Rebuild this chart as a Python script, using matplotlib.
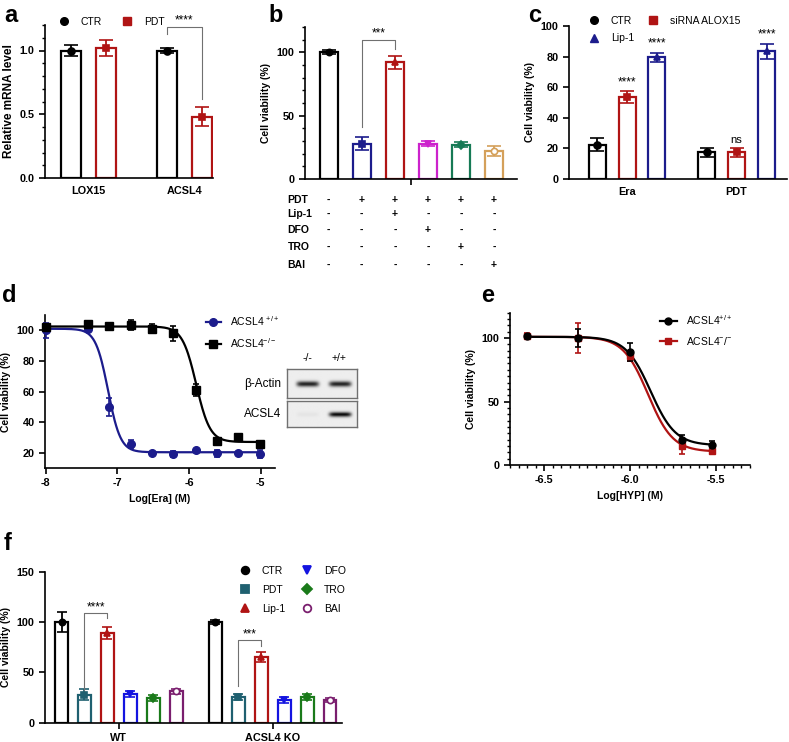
import numpy as np
import matplotlib
matplotlib.use("Agg")
import matplotlib.pyplot as plt
from matplotlib.lines import Line2D

plt.rcParams['font.family'] = ['Liberation Sans', 'DejaVu Sans']
plt.rcParams['mathtext.default'] = 'regular'
plt.rcParams['axes.unicode_minus'] = False

W, H = 789, 742

BLACK = '#000000'
RED = '#B01414'
NAVY = '#1C1C8C'
GRAY = '#707070'

# ---- panel a: relative mRNA level
a_genes = ['LOX15', 'ACSL4']
a_ctr = [1.00, 1.00]
a_ctr_err = [0.04, 0.02]
a_pdt = [1.02, 0.48]
a_pdt_err = [0.065, 0.075]

# ---- panel b: viability with inhibitors
b_mean = [100, 28, 92, 28, 27, 22]
b_err = [1.5, 5, 5, 2, 2, 4]
b_colors = ['#000000', '#1C1C8C', '#B01414', '#CC22CC', '#167A55', '#D4A05A']
b_markers = ['o', 's', '^', 'v', 'D', 'o']
b_rows = ['PDT', 'Lip-1', 'DFO', 'TRO', 'BAI']
b_signs = ['-+++++', '--+---', '---+--', '----+-', '-----+']

# ---- panel c: Era / PDT with siRNA and Lip-1
c_groups = ['Era', 'PDT']
c_series = ['CTR', 'siRNA ALOX15', 'Lip-1']
c_mean = [[22.5, 17.5], [53.5, 17.5], [79.5, 83.5]]
c_err = [[4, 3], [4, 3], [3, 5]]
c_colors = [BLACK, RED, NAVY]
c_markers = ['o', 's', '^']
c_marks = [['', ''], ['****', 'ns'], ['****', '****']]

# ---- panel d: Era dose response
d_logx = [-8.0, -7.41, -7.12, -6.81, -6.51, -6.22, -5.90, -5.61, -5.32, -5.01]
d_wt = [100, 101, 50, 25.5, 20, 19, 21.5, 19.5, 20, 19]
d_wt_err = [5, 1, 6, 2.5, 0.5, 2, 0.5, 2, 0.5, 2.5]
d_ko = [102, 104, 103, 103.5, 101, 98, 61, 27.5, 30, 26]
d_ko_err = [1, 1, 1, 3, 3, 5, 4, 1, 1, 1]
d_fit_wt = (101, 20.3, -7.13, 5.0)   # top, bottom, logIC50, hill
d_fit_ko = (102.5, 27.0, -5.90, 4.5)
blot_lanes = ['-/-', '+/+']
blot_actin = [0.85, 0.85]
blot_acsl4 = [0.04, 0.95]

# ---- panel e: HYP dose response
e_logx = list(np.log10([0.25e-6, 0.5e-6, 1e-6, 2e-6, 3e-6]))
e_wt = [101.5, 100, 89, 20, 16]
e_wt_err = [2, 7, 7, 4, 3]
e_ko = [102, 100, 86, 15, 11]
e_ko_err = [2, 12, 4, 6, 1]
e_fit_wt = (101, 15.5, -5.88, 6.0)
e_fit_ko = (101, 10.5, -5.895, 6.0)

# ---- panel f: WT vs ACSL4 KO
f_groups = ['WT', 'ACSL4 KO']
f_series = ['CTR', 'PDT', 'Lip-1', 'DFO', 'TRO', 'BAI']
f_mean = [[100, 100], [28, 25.5], [89.5, 65.5], [28.5, 22.5], [25, 26], [31, 22.5]]
f_err = [[10, 2], [5, 3], [6, 5], [3, 3], [3, 3], [2, 2]]
f_colors = ['#000000', '#1F6070', '#B01414', '#1414E0', '#1A7A1A', '#7A1E6E']
f_markers = ['o', 's', '^', 'v', 'D', 'o']

LAB = 7.5   # axis label size


def box(l, t, r, b):
    return [l / W, 1 - b / H, (r - l) / W, (b - t) / H]


def style(ax, size=7.8):
    for s in ['top', 'right']:
        ax.spines[s].set_visible(False)
    for s in ['left', 'bottom']:
        ax.spines[s].set_linewidth(1.2)
    ax.tick_params(width=1.2, length=4, labelsize=size)
    ax.tick_params(which='minor', width=1.0, length=2.5)


def bold_ticks(ax):
    for lab in ax.get_xticklabels() + ax.get_yticklabels():
        lab.set_fontweight('bold')


def hbar(ax, x, h, err, color, w, marker, cap, ms=5, open_marker=False):
    ax.bar(x, h, w, facecolor='white', edgecolor=color, linewidth=1.6, zorder=2)
    ax.errorbar(x, h, yerr=err, fmt=marker, color=color, ms=ms, capsize=cap,
                elinewidth=1.3, capthick=1.3,
                mfc='white' if open_marker else color, mec=color, mew=1.2, zorder=3)


def four_pl(x, top, bottom, logic50, hill):
    return bottom + (top - bottom) / (1 + 10 ** ((x - logic50) * hill))


def legend_at(ax, handles, labels, x, y, **kw):
    opts = dict(frameon=False, loc='upper left', borderpad=0, borderaxespad=0,
                fontsize=7.5, handletextpad=0.9, bbox_to_anchor=(x / W, 1 - y / H),
                bbox_transform=fig.transFigure)
    opts.update(kw)
    return ax.legend(handles, labels, **opts)


def bracket(ax, x1, x2, y1, ytop, y2, text):
    ax.plot([x1, x1, x2, x2], [y1, ytop, ytop, y2], color=GRAY, lw=0.8, clip_on=False, zorder=4)
    ax.text((x1 + x2) / 2, ytop, text, ha='center', va='bottom', fontsize=8.5, clip_on=False)


fig = plt.figure(figsize=(W / 100, H / 100), dpi=100)

for lab, x, y in [('a', 4, 22), ('b', 268, 22), ('c', 528, 22), ('d', 2, 302), ('e', 481, 302), ('f', 4, 550)]:
    fig.text(x / W, 1 - y / H, lab, fontsize=17, fontweight='bold', va='baseline')

# ================= panel a
ax = fig.add_axes(box(45, 25, 213, 178))
style(ax)
off = 0.183
for i in range(len(a_genes)):
    hbar(ax, i - off, a_ctr[i], a_ctr_err[i], BLACK, 0.21, 'o', 5.2)
    hbar(ax, i + off, a_pdt[i], a_pdt_err[i], RED, 0.21, 's', 5.2)
ax.set_xlim(-0.45, 1.30)
ax.set_ylim(0, 1.2)
ax.set_yticks([0, 0.5, 1.0])
ax.set_yticklabels(['0.0', '0.5', '1.0'])
ax.set_yticks(np.arange(0, 1.21, 0.1), minor=True)
ax.set_xticks(range(len(a_genes)))
ax.set_xticklabels(a_genes)
ax.tick_params(axis='x', length=0, pad=6)
bold_ticks(ax)
ax.set_ylabel('Relative mRNA level', fontsize=8.5, fontweight='bold', labelpad=3)
bracket(ax, 1 - off, 1 + off, 1.13, 1.185, 0.62, '****')
h = [Line2D([], [], ls='none', marker='o', color=BLACK, ms=5.5),
     Line2D([], [], ls='none', marker='s', color=RED, ms=5.5)]
legend_at(ax, h, ['CTR', 'PDT'], 57, 17, ncol=2, handlelength=1.4, columnspacing=1.7)

# ================= panel b
ax = fig.add_axes(box(305, 27, 517, 179))
style(ax)
for i in range(len(b_mean)):
    hbar(ax, i, b_mean[i], b_err[i], b_colors[i], 0.55, b_markers[i], 5.0,
         ms=4.5, open_marker=(i == 5))
ax.set_xlim(-0.72, 5.70)
ax.set_ylim(0, 120)
ax.set_yticks([0, 50, 100])
ax.set_yticks(np.arange(0, 121, 10), minor=True)
ax.set_xticks([2.5])
ax.set_xticklabels([''])
bold_ticks(ax)
ax.set_ylabel('Cell viability (%)', fontsize=LAB, fontweight='bold')
bracket(ax, 1, 2, 41, 110, 103, '***')
tr = ax.get_xaxis_transform()
row_y = [-0.138, -0.23, -0.336, -0.447, -0.566]
for r, name in enumerate(b_rows):
    ax.text(-1.25, row_y[r], name, transform=tr, fontsize=7.5, fontweight='bold',
            ha='left', va='center', clip_on=False)
    for i, s in enumerate(b_signs[r]):
        ax.text(i, row_y[r], s, transform=tr, fontsize=7.5, fontweight='bold',
                ha='center', va='center', clip_on=False)

# ================= panel c
ax = fig.add_axes(box(569, 26, 787, 179))
style(ax)
off = 0.273
for s in range(len(c_series)):
    for g in range(len(c_groups)):
        x = g + (s - 1) * off
        hbar(ax, x, c_mean[s][g], c_err[s][g], c_colors[s], 0.155, c_markers[s], 5.0)
        if c_marks[s][g]:
            ax.text(x, c_mean[s][g] + c_err[s][g] + 2, c_marks[s][g], ha='center',
                    va='bottom', fontsize=8.5 if c_marks[s][g] != 'ns' else 8)
ax.set_xlim(-0.53, 1.46)
ax.set_ylim(0, 100)
ax.set_yticks(range(0, 101, 20))
ax.set_xticks(range(len(c_groups)))
ax.set_xticklabels(c_groups)
ax.tick_params(axis='x', length=0, pad=6)
bold_ticks(ax)
ax.set_ylabel('Cell viability (%)', fontsize=LAB, fontweight='bold')
h = [Line2D([], [], ls='none', marker=c_markers[s], color=c_colors[s], ms=5.5) for s in [0, 2, 1]]
legend_at(ax, h, [c_series[s] for s in [0, 2, 1]], 587, 16, ncol=2, handlelength=1.4,
          columnspacing=1.1, labelspacing=0.7)

# ================= panel d
ax = fig.add_axes(box(45, 315, 275, 468))
style(ax)
xs = np.linspace(-8, -5, 300)
ax.plot(xs, four_pl(xs, *d_fit_wt), color=NAVY, lw=1.6, zorder=2)
ax.plot(xs, four_pl(xs, *d_fit_ko), color=BLACK, lw=1.6, zorder=2)
ax.errorbar(d_logx, d_wt, yerr=d_wt_err, fmt='o', color=NAVY, ms=5.5, capsize=2.5,
            elinewidth=1.2, capthick=1.2, zorder=3, clip_on=False)
ax.errorbar(d_logx, d_ko, yerr=d_ko_err, fmt='s', color=BLACK, ms=6, capsize=2.5,
            elinewidth=1.2, capthick=1.2, zorder=3, clip_on=False)
ax.set_xlim(-8.01, -4.8)
ax.set_ylim(10, 110)
ax.set_xticks([-8, -7, -6, -5])
ax.set_yticks(range(20, 101, 20))
bold_ticks(ax)
ax.set_xlabel('Log[Era] (M)', fontsize=LAB, fontweight='bold')
ax.set_ylabel('Cell viability (%)', fontsize=LAB, fontweight='bold')
h = [Line2D([], [], marker='o', color=NAVY, ms=5.5, lw=1.6),
     Line2D([], [], marker='s', color=BLACK, ms=6, lw=1.6)]
legend_at(ax, h, [r'ACSL4 $^{+/+}$', r'ACSL4$^{-/-}$'], 206, 314, handlelength=1.4,
          labelspacing=0.8)

# western blot inset
yy, xx = np.mgrid[0:30, 0:70]
lane_x = [20, 52]
for (t, b), vals, name in [((369, 398), blot_actin, 'β-Actin'), ((401, 427), blot_acsl4, 'ACSL4')]:
    bx = fig.add_axes(box(287, t, 357, b))
    img = np.full(yy.shape, 0.07)
    for lx, v in zip(lane_x, vals):
        img += v * np.exp(-((xx - lx) / 11.0) ** 6 - ((yy - 15) / 2.8) ** 2)
    bx.imshow(img, cmap='gray_r', vmin=0, vmax=1.05, aspect='auto', interpolation='bilinear')
    bx.set_xticks([])
    bx.set_yticks([])
    for s in bx.spines.values():
        s.set_color(GRAY)
        s.set_linewidth(1)
    fig.text(281 / W, 1 - ((t + b) / 2) / H, name, fontsize=8.5, ha='right', va='center')
for lx, lab in zip(lane_x, blot_lanes):
    fig.text((287 + lx) / W, 1 - 358 / H, lab, fontsize=7.5, ha='center', va='center')

# ================= panel e
ax = fig.add_axes(box(510, 312.7, 750, 465))
style(ax)
xs = np.linspace(-6.6, -5.52, 300)
ax.plot(xs, four_pl(xs, *e_fit_ko), color=RED, lw=1.6, zorder=2)
ax.plot(xs, four_pl(xs, *e_fit_wt), color=BLACK, lw=1.6, zorder=2)
ax.errorbar(e_logx, e_ko, yerr=e_ko_err, fmt='s', color=RED, ms=5, capsize=2.5,
            elinewidth=1.2, capthick=1.2, zorder=3)
ax.errorbar(e_logx, e_wt, yerr=e_wt_err, fmt='o', color=BLACK, ms=5, capsize=2.5,
            elinewidth=1.2, capthick=1.2, zorder=3)
ax.set_xlim(-6.7, -5.3)
ax.set_ylim(0, 120)
ax.set_xticks([-6.5, -6.0, -5.5])
ax.set_xticks(np.arange(-6.7, -5.29, 0.05), minor=True)
ax.set_yticks([0, 50, 100])
ax.set_yticks(np.arange(0, 121, 5), minor=True)
bold_ticks(ax)
ax.set_xlabel('Log[HYP] (M)', fontsize=LAB, fontweight='bold')
ax.set_ylabel('Cell viability (%)', fontsize=LAB, fontweight='bold')
h = [Line2D([], [], marker='o', color=BLACK, ms=5, lw=1.6),
     Line2D([], [], marker='s', color=RED, ms=5, lw=1.6)]
legend_at(ax, h, [r'ACSL4$^{+/+}$', r'ACSL4$^{-}$/$^{-}$'], 660, 313, handlelength=1.6,
          labelspacing=0.8)

# ================= panel f
ax = fig.add_axes(box(45, 571.7, 342, 722.7))
style(ax)
step = 0.149
for s in range(len(f_series)):
    for g in range(len(f_groups)):
        hbar(ax, g + (s - 2.5) * step, f_mean[s][g], f_err[s][g], f_colors[s], 0.083,
             f_markers[s], 3.6, ms=4.5, open_marker=(s == 5))
bracket(ax, -1.5 * step, -0.5 * step, 32.5, 109, 104, '****')
bracket(ax, 1 - 1.5 * step, 1 - 0.5 * step, 36, 82, 76, '***')
ax.set_xlim(-0.48, 1.45)
ax.set_ylim(0, 150)
ax.set_yticks([0, 50, 100, 150])
ax.set_xticks(range(len(f_groups)))
ax.set_xticklabels(f_groups)
bold_ticks(ax)
ax.set_ylabel('Cell viability (%)', fontsize=LAB, fontweight='bold')
h = [Line2D([], [], ls='none', marker=f_markers[s], color=f_colors[s], ms=5.5,
            mfc='white' if s == 5 else f_colors[s], mew=1.3) for s in range(len(f_series))]
legend_at(ax, h, f_series, 238, 566, ncol=2, handlelength=1.4, columnspacing=1.4,
          labelspacing=0.85)

fig.savefig('out.png', dpi=100)
